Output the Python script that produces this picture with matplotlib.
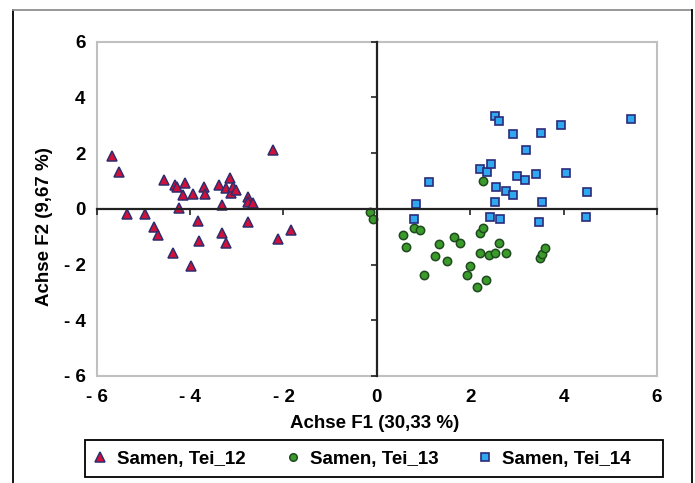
import numpy as np
import matplotlib
matplotlib.use("Agg")
import matplotlib.pyplot as plt
from matplotlib.lines import Line2D
from matplotlib.patches import Rectangle

plt.rcParams['font.family'] = ['Liberation Sans', 'DejaVu Sans']

# Samen, Tei_12 (triangles)
tei12_x = [-5.68, -5.53, -5.36, -4.97, -4.77, -4.68, -4.56, -4.36, -4.33, -4.27,
           -4.24, -4.15, -4.10, -3.99, -3.93, -3.83, -3.80, -3.71, -3.69, -3.37,
           -3.31, -3.31, -3.24, -3.23, -3.15, -3.13, -3.09, -3.01, -2.77, -2.76,
           -2.75, -2.65, -2.22, -2.11, -1.83]
tei12_y = [1.90, 1.32, -0.19, -0.19, -0.66, -0.94, 1.04, -1.58, 0.87, 0.78,
           0.04, 0.50, 0.92, -2.04, 0.54, -0.44, -1.14, 0.80, 0.54, 0.86,
           0.13, -0.86, -1.24, 0.74, 1.10, 0.56, 0.78, 0.68, 0.42, -0.47,
           0.25, 0.20, 2.12, -1.07, -0.76]

# Samen, Tei_13 (circles)
tei13_x = [-0.14, -0.09, 0.55, 0.63, 0.80, 0.93, 1.02, 1.25, 1.33, 1.50,
           1.65, 1.78, 1.93, 1.99, 2.15, 2.20, 2.21, 2.27, 2.27, 2.34,
           2.40, 2.53, 2.61, 2.77, 3.50, 3.53, 3.60]
tei13_y = [-0.10, -0.36, -0.94, -1.38, -0.70, -0.76, -2.36, -1.68, -1.26, -1.86,
           -1.00, -1.21, -2.36, -2.04, -2.82, -1.58, -0.86, -0.70, 1.00, -2.56,
           -1.64, -1.60, -1.22, -1.60, -1.78, -1.62, -1.42]

# Samen, Tei_14 (squares)
tei14_x = [0.80, 0.83, 1.12, 2.21, 2.35, 2.44, 2.42, 2.52, 2.56, 2.54,
           2.61, 2.63, 2.77, 2.92, 2.92, 3.01, 3.19, 3.18, 3.41, 3.48,
           3.51, 3.54, 3.94, 4.06, 4.47, 4.50, 5.44]
tei14_y = [-0.36, 0.18, 0.96, 1.44, 1.32, 1.60, -0.30, 0.24, 0.80, 3.32,
           3.16, -0.36, 0.64, 2.70, 0.50, 1.18, 2.10, 1.02, 1.26, -0.46,
           2.74, 0.26, 3.00, 1.28, -0.30, 0.60, 3.22]

ticks = [-6, -4, -2, 0, 2, 4, 6]
tick_labels = ["- 6", "- 4", "- 2", "0", "2", "4", "6"]

W, H = 695, 483
FS = 13.5
fig = plt.figure(figsize=(W / 100, H / 100), dpi=100)

rect = [96.7 / W, 1 - 376 / H, (657 - 96.7) / W, (376 - 41.7) / H]
ax = fig.add_axes(rect)
ax.set_xlim(-6, 6)
ax.set_ylim(-6, 6)
for s in ax.spines.values():
    s.set_color('#c0c0c0')
    s.set_linewidth(1.5)
ax.set_xticks(ticks)
ax.set_yticks(ticks)
ax.set_xticklabels(tick_labels, fontsize=FS, fontweight='bold')
ax.set_yticklabels(tick_labels, fontsize=FS, fontweight='bold')
ax.tick_params(axis='x', length=0, pad=9)
ax.tick_params(axis='y', length=0, pad=8)

# zero axes with tick marks
ax0 = fig.add_axes(rect, frameon=True)
ax0.patch.set_alpha(0)
ax0.set_xlim(-6, 6)
ax0.set_ylim(-6, 6)
ax0.spines['left'].set_position(('data', 0))
ax0.spines['bottom'].set_position(('data', 0))
ax0.spines['right'].set_visible(False)
ax0.spines['top'].set_visible(False)
for k in ['left', 'bottom']:
    ax0.spines[k].set_color('#222222')
    ax0.spines[k].set_linewidth(1.6)
ax0.set_xticks(ticks)
ax0.set_yticks(ticks)
ax0.tick_params(direction='out', length=4, width=1.2, color='#222222',
                labelbottom=False, labelleft=False)

h12, = ax0.plot(tei12_x, tei12_y, linestyle='none', marker='^', markersize=7.5,
                markerfacecolor='#d0103a', markeredgecolor='#2e2e6e', markeredgewidth=1.1,
                label='Samen, Tei_12')
h13, = ax0.plot(tei13_x, tei13_y, linestyle='none', marker='o', markersize=6,
                markerfacecolor='#3a9a2a', markeredgecolor='#1f4a1f', markeredgewidth=1.1,
                label='Samen, Tei_13')
h14, = ax0.plot(tei14_x, tei14_y, linestyle='none', marker='s', markersize=6.2,
                markerfacecolor='#2fa8f0', markeredgecolor='#2a2a7a', markeredgewidth=1.2,
                label='Samen, Tei_14')

fig.text(375 / W, 1 - 423 / H, 'Achse F1 (30,33 %)', ha='center', va='center',
         fontsize=FS, fontweight='bold')
fig.text(45 / W, 1 - 227 / H, 'Achse F2 (9,67 %)', ha='center', va='center',
         rotation=90, fontsize=FS, fontweight='bold')

leg = fig.legend(handles=[h12, h13, h14], loc='center left', ncol=3,
                 bbox_to_anchor=(91 / W, 1 - 459 / H), borderaxespad=0,
                 frameon=False, prop={'weight': 'bold', 'size': FS},
                 handlelength=1.0, handletextpad=0.4, columnspacing=2.0,
                 borderpad=0, markerscale=0.9)

# legend box and outer frame
fig.add_artist(Rectangle((85 / W, 1 - 477 / H), (663 - 85) / W, 37 / H,
                         fill=False, edgecolor='black', lw=1.3, transform=fig.transFigure))
fig.add_artist(Line2D([13.3 / W, 13.3 / W], [0, 1 - 10 / H], color='black', lw=1.3,
                      transform=fig.transFigure))
fig.add_artist(Line2D([13.3 / W, 692 / W], [1 - 10 / H, 1 - 10 / H], color='#909090', lw=1.3,
                      transform=fig.transFigure))
fig.add_artist(Line2D([692 / W, 692 / W], [0, 1 - 10 / H], color='black', lw=1.3,
                      transform=fig.transFigure))

fig.savefig('out.png', dpi=100)
